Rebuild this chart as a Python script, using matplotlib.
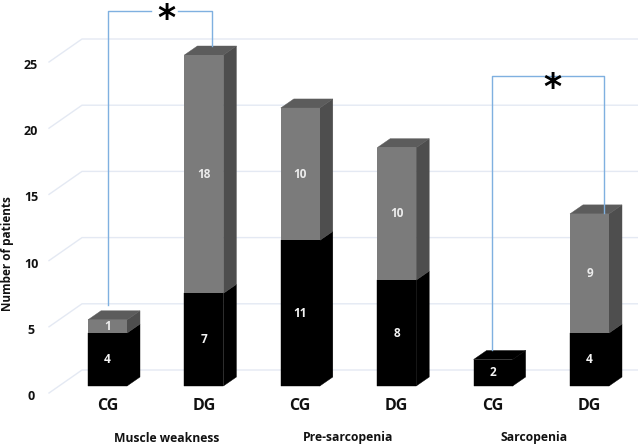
import matplotlib
matplotlib.use("Agg")
import matplotlib.pyplot as plt
from matplotlib.patches import Polygon

plt.rcParams['font.family'] = ['Open Sans', 'DejaVu Sans']

# Values
groups = ["CG", "DG", "CG", "DG", "CG", "DG"]
black_values = [4, 7, 11, 8, 2, 4]
grey_values = [1, 18, 10, 10, 0, 9]
group_titles = ["Muscle weakness", "Pre-sarcopenia", "Sarcopenia"]
y_ticks = [0, 5, 10, 15, 20, 25]

BLACK = "#000000"
GREY = "#7b7b7b"
GREY_TOP = "#5c5c5c"
GREY_SIDE = "#4e4e4e"
GRID = "#e4e9f3"
BRACKET = "#7fb0e0"

W, H = 638, 445
X0, X_STEP = 107.5, 96.4   # pixel of first bar centre, pixels per category
Y0, Y_STEP = 386.0, 13.24  # pixel of value 0, pixels per patient

fig = plt.figure(figsize=(W / 100, H / 100), dpi=100)
ax = fig.add_axes([0, 0, 1, 1])
ax.set_xlim(-X0 / X_STEP, (W - X0) / X_STEP)
ax.set_ylim((Y0 - H) / Y_STEP, Y0 / Y_STEP)
ax.axis("off")

bar_w = 39 / X_STEP
dx, dy = 13 / X_STEP, 9 / Y_STEP  # depth of the fake 3D bars

# back wall grid with the slanted floor part
wall_x = (82 - X0) / X_STEP
front_x = (49 - X0) / X_STEP
right_x = (W - X0) / X_STEP
wall_dy, front_dy = 16 / Y_STEP, -7 / Y_STEP
for t in y_ticks:
    ax.plot([front_x, wall_x, right_x], [t + front_dy, t + wall_dy, t + wall_dy],
            color=GRID, lw=1, zorder=1)
    ax.text((31 - X0) / X_STEP, t - 10.5 / Y_STEP, str(t), ha="center", va="center",
            fontsize=9, fontweight="bold", color="#111111")


def draw_depth(x, bottom, top, side, cap):
    r = x + bar_w / 2
    l = x - bar_w / 2
    ax.add_patch(Polygon([(r, bottom), (r + dx, bottom + dy), (r + dx, top + dy), (r, top)],
                         fc=side, ec=side, lw=0.3, zorder=2))
    if cap:
        ax.add_patch(Polygon([(l, top), (l + dx, top + dy), (r + dx, top + dy), (r, top)],
                             fc=cap, ec=cap, lw=0.3, zorder=2))


xs = list(range(len(groups)))
tops = [b + g for b, g in zip(black_values, grey_values)]
for x, b, g, t in zip(xs, black_values, grey_values, tops):
    draw_depth(x, 0, b, BLACK, BLACK if g == 0 else None)
    if g:
        draw_depth(x, b, t, GREY_SIDE, GREY_TOP)

black_bars = ax.bar(xs, black_values, width=bar_w, color=BLACK, ec=BLACK, lw=0.3, zorder=3)
grey_bars = ax.bar(xs, grey_values, width=bar_w, bottom=black_values, color=GREY, zorder=3)
ax.bar_label(black_bars, label_type="center", color="#f4f4f4", fontsize=8.5, fontweight="bold", zorder=4)
ax.bar_label(grey_bars, labels=[str(g) if g else "" for g in grey_values], label_type="center",
             color="#ececec", fontsize=8.5, fontweight="bold", zorder=4)

# category and group labels
for x, name in zip(xs, groups):
    ax.text(x, (Y0 - 406) / Y_STEP, name, ha="center", va="center",
            fontsize=11.5, fontweight="bold", color="#111111")
for x, name in zip([(167 - X0) / X_STEP, (348 - X0) / X_STEP, (534.5 - X0) / X_STEP], group_titles):
    ax.text(x, (Y0 - 438) / Y_STEP, name, ha="center", va="center",
            fontsize=8.7, fontweight="bold", color="#111111")

ax.text((7 - X0) / X_STEP, (Y0 - 254) / Y_STEP, "Number of patients", rotation=90,
        ha="center", va="center", fontsize=8.5, fontweight="bold", color="#111111")

# significance brackets
ax.plot([0.005, 0.005, 0.45], [6.1, 28.3, 28.3], color=BRACKET, lw=1, zorder=5)
ax.plot([0.73, 1.084, 1.084], [28.3, 28.3, 25.7], color=BRACKET, lw=1, zorder=5)
ax.plot([3.99, 3.99, 5.15, 5.15], [2.7, 23.4, 23.4, 13.07], color=BRACKET, lw=1, zorder=5)
ax.text(0.61, 27.7, "*", ha="center", va="center", fontsize=25, fontweight="bold",
        family="DejaVu Sans", color="black", zorder=6)
ax.text(4.61, 22.5, "*", ha="center", va="center", fontsize=25, fontweight="bold",
        family="DejaVu Sans", color="black", zorder=6)

fig.savefig("out.png", dpi=100, facecolor="white")
